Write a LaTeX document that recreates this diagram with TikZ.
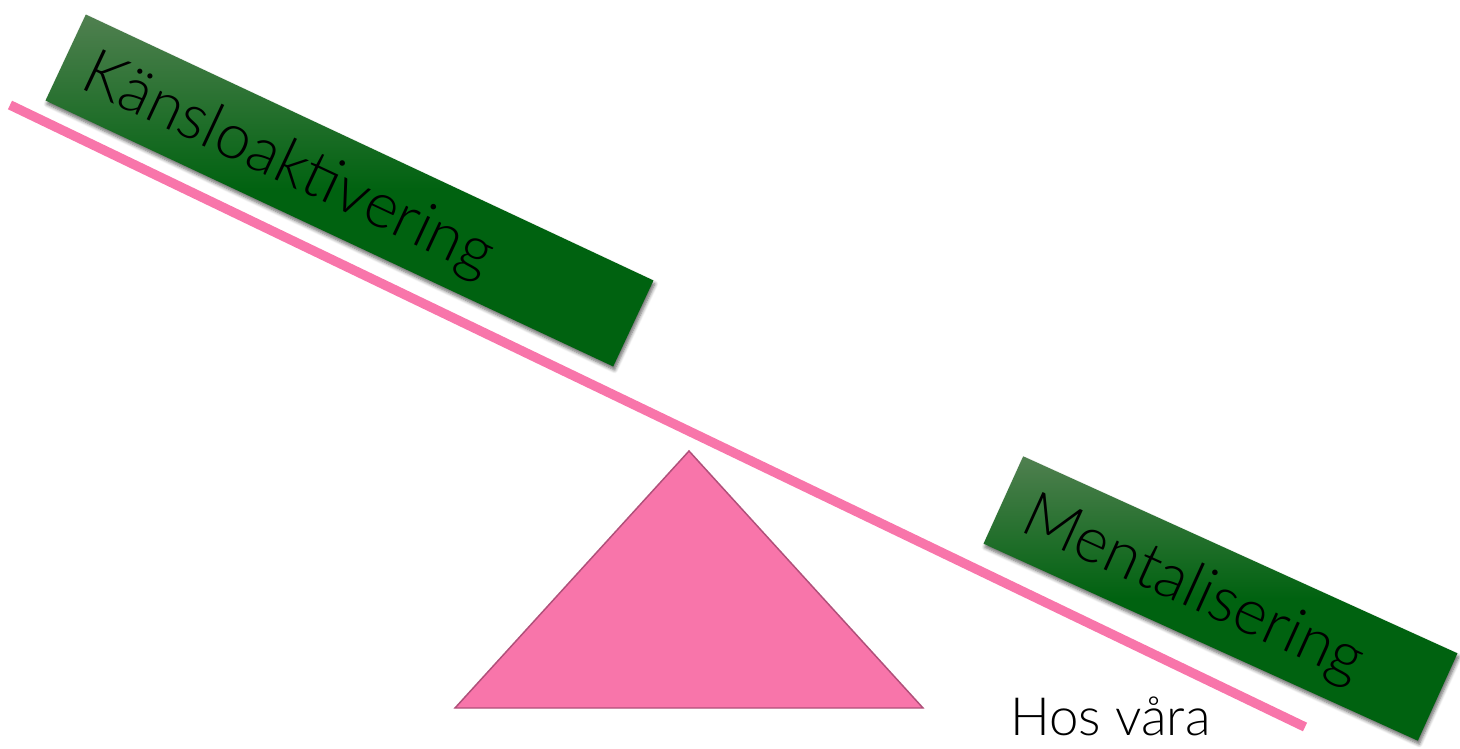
\documentclass[tikz,border=0pt]{standalone}
\usepackage{fontspec}
\setmainfont{Lato Light}
\usetikzlibrary{shadows.blur}
\definecolor{pinkc}{RGB}{248,117,170}
\definecolor{pinkd}{RGB}{176,80,122}
\definecolor{gtop}{RGB}{80,128,80}
\definecolor{gbot}{RGB}{0,98,16}
\tikzset{
  greenbox/.style={rectangle, inner sep=0pt, top color=gtop, bottom color=gbot, middle color=gbot,
    blur shadow={shadow xshift=0.8pt, shadow yshift=-2pt, shadow blur steps=6, shadow opacity=60}},
  bigtext/.style={anchor=base west, inner sep=0pt, font=\fontsize{36}{42}\selectfont},
  plaintext/.style={anchor=base west, inner sep=0pt, font=\fontsize{30}{35}\selectfont},
  beam/.style={pinkc, line width=0.19cm},
  fulcrum/.style={fill=pinkc, draw=pinkd, line width=0.85pt},
}
\begin{document}
\begin{tikzpicture}[x=0.02cm,y=-0.02cm]
\useasboundingbox (0,0) rectangle (1460,749);
\node[greenbox, minimum width=12.54cm, minimum height=1.9cm, rotate=-25.1] (box1) at (349.5,190.5) {};
\node[greenbox, minimum width=9.54cm, minimum height=1.92cm, rotate=-24.4] (box2) at (1220.5,598.5) {};
\coordinate (l1) at (10,105);
\coordinate (l2) at (1305,727);
\draw[beam] (l1) -- (l2);
\coordinate (apex) at (689,451);
\coordinate (bl) at (455,708);
\coordinate (br) at (923,708);
\draw[fulcrum] (apex) -- (bl) -- (br) -- cycle;
\node[bigtext, rotate=-25.1] (t1) at (78,87) {Känsloaktivering};
\node[bigtext, rotate=-24.4] (t2) at (1018,530) {Mentalisering};
\node[plaintext] (t3) at (1010,735) {Hos våra};
\end{tikzpicture}
\end{document}
